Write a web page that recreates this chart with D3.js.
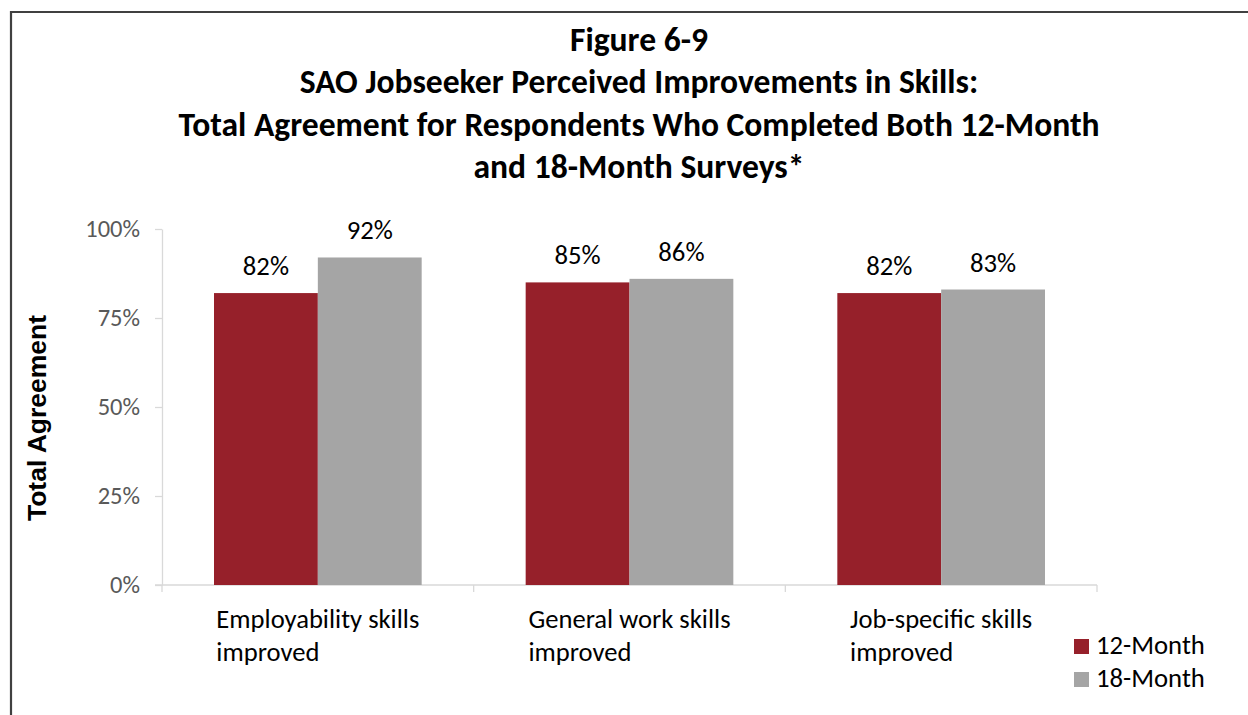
<!DOCTYPE html>
<html>
<head>
<meta charset="utf-8">
<script src="https://cdn.jsdelivr.net/npm/d3@7"></script>
<style>
  html, body { margin: 0; padding: 0; background: #fff; }
  svg { display: block; }
</style>
</head>
<body>
<script>
// Survey categories and total agreement (%) for each survey wave
const categories = [
  ["Employability skills", "improved"],
  ["General work skills", "improved"],
  ["Job-specific skills", "improved"]
];
const seriesNames = ["12-Month", "18-Month"];
const month12 = [82, 85, 82];
const month18 = [92, 86, 83];
const yTicks = [0, 25, 50, 75, 100];
const titleLines = [
  "Figure 6-9",
  "SAO Jobseeker Perceived Improvements in Skills:",
  "Total Agreement for Respondents Who Completed Both 12-Month",
  "and 18-Month Surveys*"
];
const colors = ["#96202A", "#A5A5A5"];

const W = 1248, H = 715;
const svg = d3.select("body").append("svg").attr("width", W).attr("height", H);
const bodyFont = "Carlito, Calibri, 'Open Sans', sans-serif";

// frame (top and left edges)
svg.append("path")
  .attr("d", `M11,${H} L11,12 L${W},12`)
  .attr("fill", "none").attr("stroke", "#404040").attr("stroke-width", 2.2);

// title
const title = svg.append("g");
titleLines.forEach((t, i) => {
  title.append("text")
    .attr("x", 639).attr("y", 51 + i * 42.3)
    .attr("text-anchor", "middle")
    .attr("font-family", bodyFont)
    .attr("font-weight", "bold")
    .attr("font-size", 33.6)
    .attr("fill", "#000")
    .text(t);
});

const x0 = 162, x1 = 1097, yTop = 229, yBot = 585;
const x = d3.scaleBand().domain(d3.range(categories.length)).range([x0, x1]).paddingInner(0).paddingOuter(0);
const y = d3.scaleLinear().domain([0, 100]).range([yBot, yTop]);
const groupPad = 52;
const xs = d3.scaleBand().domain(d3.range(seriesNames.length))
  .range([groupPad, x.bandwidth() - groupPad]).padding(0);

// y axis
const yAxis = svg.append("g").attr("transform", `translate(${x0},0)`)
  .call(d3.axisLeft(y).tickValues(yTicks).tickFormat(d => d + "%").tickSize(7).tickSizeOuter(0));
yAxis.select(".domain").attr("stroke", "#D9D9D9").attr("stroke-width", 1.3);
yAxis.selectAll(".tick line").attr("stroke", "#D9D9D9").attr("stroke-width", 1.3);
yAxis.selectAll(".tick text")
  .attr("x", -22)
  .attr("font-family", bodyFont).attr("font-size", 24.5).attr("fill", "#595959");

// x axis with separators between categories
const xAxis = svg.append("g");
xAxis.append("line").attr("x1", x0 - 7).attr("x2", x1).attr("y1", yBot).attr("y2", yBot)
  .attr("stroke", "#D9D9D9").attr("stroke-width", 1.3);
d3.range(categories.length + 1).forEach(i => {
  const xx = i < categories.length ? x(i) : x1;
  xAxis.append("line").attr("x1", xx).attr("x2", xx).attr("y1", yBot).attr("y2", yBot + 7)
    .attr("stroke", "#D9D9D9").attr("stroke-width", 1.3);
});

// bars with value labels
const series = [month12, month18];
series.forEach((vals, s) => {
  const g = svg.append("g");
  g.selectAll("rect").data(vals).join("rect")
    .attr("x", (d, i) => x(i) + xs(s))
    .attr("y", d => y(d))
    .attr("width", xs.bandwidth())
    .attr("height", d => y(0) - y(d))
    .attr("fill", colors[s]);
  g.selectAll("text").data(vals).join("text")
    .attr("x", (d, i) => x(i) + xs(s) + xs.bandwidth() / 2)
    .attr("y", d => y(d) - 18)
    .attr("text-anchor", "middle")
    .attr("font-family", bodyFont).attr("font-size", 26.7).attr("fill", "#000")
    .text(d => d + "%");
});

// category labels: wrapped lines, left aligned, block centered on band
categories.forEach((lines, i) => {
  const g = svg.append("g");
  const ts = lines.map((ln, k) => g.append("text")
    .attr("y", 628 + k * 33)
    .attr("font-family", bodyFont).attr("font-size", 26.6).attr("fill", "#000")
    .text(ln));
  const w = d3.max(ts, t => t.node().getComputedTextLength());
  const cx = x(i) + x.bandwidth() / 2;
  ts.forEach(t => t.attr("x", cx - w / 2));
});

// y axis title
svg.append("text")
  .attr("transform", "translate(46,418) rotate(-90)")
  .attr("text-anchor", "middle")
  .attr("font-family", "'Liberation Sans', Arial, sans-serif")
  .attr("font-weight", "bold").attr("font-size", 26.5).attr("fill", "#000")
  .text("Total Agreement");

// legend
const legend = svg.append("g");
seriesNames.forEach((n, i) => {
  legend.append("rect").attr("x", 1074).attr("y", 639 + i * 33).attr("width", 15).attr("height", 15)
    .attr("fill", colors[i]);
  legend.append("text").attr("x", 1096).attr("y", 654 + i * 33)
    .attr("font-family", bodyFont).attr("font-size", 26.7).attr("fill", "#000")
    .text(n);
});
</script>
</body>
</html>
